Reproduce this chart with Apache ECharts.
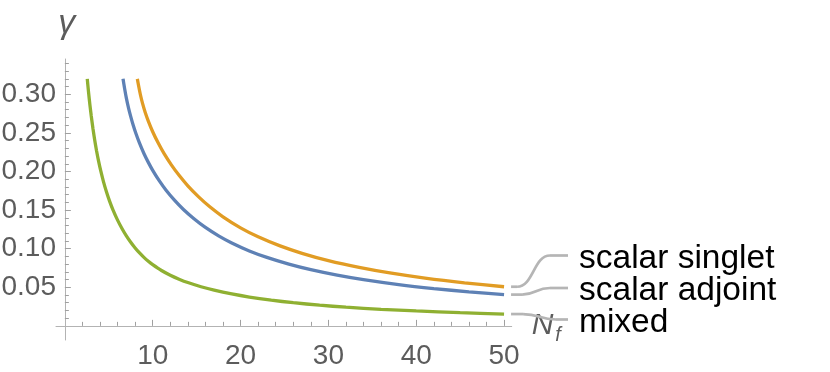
<!DOCTYPE html>
<html><head><meta charset="utf-8">
<script src="https://cdn.jsdelivr.net/npm/echarts@6/dist/echarts.min.js"></script>
<style>html,body{margin:0;padding:0;background:#fff}#c{width:830px;height:372px}</style>
</head><body><div id="c"></div>
<script>
const seriesNames = ['scalar singlet', 'scalar adjoint', 'mixed'];
const seriesColors = ['#e19c24', '#5e81b5', '#8fb032'];
const singletX = [8.25, 8.4, 8.6, 8.85, 9.15, 9.5, 10, 10.6, 11.3, 12.1, 13, 14, 15.2, 16.5, 18, 20, 22, 24.5, 27, 30, 33.5, 37, 41, 45.5, 50];
const singletY = [0.320, 0.3107, 0.2994, 0.2879, 0.2765, 0.2653, 0.2515, 0.2374, 0.2230, 0.2089, 0.1950, 0.1814, 0.1674, 0.1542, 0.1413, 0.1270, 0.1154, 0.1036, 0.0940, 0.0845, 0.0757, 0.0685, 0.0618, 0.0557, 0.0507];
const adjointX = [6.62, 6.8, 7.0, 7.25, 7.5, 7.8, 8.1, 8.5, 9.0, 9.5, 10, 10.7, 11.5, 12.5, 13.5, 14.7, 16, 17.5, 19, 21, 23, 25.5, 28, 31, 34, 38, 42, 46, 50];
const adjointY = [0.320, 0.3074, 0.2950, 0.2821, 0.2711, 0.2592, 0.2488, 0.2366, 0.2233, 0.2118, 0.2015, 0.1888, 0.1761, 0.1625, 0.1508, 0.1388, 0.1275, 0.1166, 0.1074, 0.0971, 0.0887, 0.0800, 0.0728, 0.0657, 0.0598, 0.0534, 0.0483, 0.0441, 0.0405];
const mixedX = [2.55, 2.7, 2.85, 3.0, 3.2, 3.4, 3.6, 3.85, 4.1, 4.4, 4.75, 5.1, 5.5, 6.0, 6.5, 7.0, 7.5, 8.0, 8.5, 9.0, 9.5, 10, 11, 12, 13, 14, 15.5, 17, 19, 21, 23.5, 26, 29, 32, 36, 40, 45, 50];
const mixedY = [0.320, 0.3021, 0.2863, 0.2722, 0.2553, 0.2404, 0.2272, 0.2127, 0.2000, 0.1866, 0.1731, 0.1613, 0.1496, 0.1370, 0.1262, 0.1166, 0.1083, 0.1009, 0.0944, 0.0887, 0.0837, 0.0793, 0.0717, 0.0656, 0.0605, 0.0561, 0.0507, 0.0462, 0.0413, 0.0373, 0.0333, 0.0300, 0.0268, 0.0242, 0.0215, 0.0193, 0.0171, 0.0153];
const xMajorTicks = [10, 20, 30, 40, 50];
const xMinorTicks = [2, 4, 6, 8, 12, 14, 16, 18, 22, 24, 26, 28, 32, 34, 36, 38, 42, 44, 46, 48];
const yMajorTicks = [0.05, 0.10, 0.15, 0.20, 0.25, 0.30];
const yMinorTicks = [0.01, 0.02, 0.03, 0.04, 0.06, 0.07, 0.08, 0.09, 0.11, 0.12, 0.13, 0.14, 0.16, 0.17, 0.18, 0.19, 0.21, 0.22, 0.23, 0.24, 0.26, 0.27, 0.28, 0.29, 0.31, 0.32, 0.33, 0.34];
const xAxisTitle = 'N';
const xAxisSub = 'f';
const yAxisTitle = 'γ';

const xs = [singletX, adjointX, mixedX];
const ys = [singletY, adjointY, mixedY];
const pairs = (a, b) => a.map((v, i) => [v, b[i]]);

const X_MIN = -1.01, X_MAX = 50.87, Y_MIN = -0.0183, Y_MAX = 0.3457;
const AXIS_GRAY = '#b3b3b3', TICK_GRAY = '#a0a0a0', LABEL_GRAY = '#5c5c5c';
const FONT = 'Liberation Sans';

const chart = echarts.init(document.getElementById('c'), null, {renderer: 'canvas'});
chart.setOption({
  animation: false,
  backgroundColor: '#ffffff',
  grid: {left: 56, right: 318.3, top: 59, bottom: 32, containLabel: false, outerBoundsMode: 'none'},
  xAxis: [
    {
      type: 'value', min: X_MIN, max: X_MAX, position: 'bottom',
      axisLine: {show: true, onZero: true, onZeroAxisIndex: 0, lineStyle: {color: AXIS_GRAY, width: 1}},
      axisTick: {show: true, inside: true, length: 6, customValues: xMajorTicks, lineStyle: {color: TICK_GRAY, width: 1}},
      axisLabel: {show: true, customValues: xMajorTicks, margin: 2, fontSize: 28, fontFamily: FONT, color: LABEL_GRAY},
      splitLine: {show: false},
      name: '{n|' + xAxisTitle + '}{f|' + xAxisSub + '}',
      nameLocation: 'end', nameGap: 20,
      nameTextStyle: {
        rich: {
          n: {fontSize: 30, fontStyle: 'italic', fontFamily: FONT, color: LABEL_GRAY, verticalAlign: 'middle'},
          f: {fontSize: 20, fontStyle: 'italic', fontFamily: FONT, color: LABEL_GRAY, padding: [20, 0, 0, 2], verticalAlign: 'middle'}
        }
      }
    },
    {
      type: 'value', min: X_MIN, max: X_MAX, position: 'bottom',
      axisLine: {show: false, onZero: true, onZeroAxisIndex: 0},
      axisTick: {show: true, inside: true, length: 4, customValues: xMinorTicks, lineStyle: {color: TICK_GRAY, width: 1}},
      axisLabel: {show: false},
      splitLine: {show: false}
    }
  ],
  yAxis: [
    {
      type: 'value', min: Y_MIN, max: Y_MAX, position: 'left',
      axisLine: {show: true, onZero: true, onZeroAxisIndex: 0, lineStyle: {color: AXIS_GRAY, width: 1}},
      axisTick: {show: true, inside: true, length: 6, customValues: yMajorTicks, lineStyle: {color: TICK_GRAY, width: 1}},
      axisLabel: {show: true, customValues: yMajorTicks, margin: 0, fontSize: 28, fontFamily: FONT, color: LABEL_GRAY,
        formatter: v => Number(v).toFixed(2)},
      splitLine: {show: false},
      name: yAxisTitle, nameLocation: 'end', nameGap: 18,
      nameTextStyle: {fontSize: 34, fontStyle: 'italic', fontFamily: FONT, color: LABEL_GRAY, align: 'center', padding: [0, 0, 0, 4]}
    },
    {
      type: 'value', min: Y_MIN, max: Y_MAX, position: 'left',
      axisLine: {show: false, onZero: true, onZeroAxisIndex: 0},
      axisTick: {show: true, inside: true, length: 4, customValues: yMinorTicks, lineStyle: {color: TICK_GRAY, width: 1}},
      axisLabel: {show: false},
      splitLine: {show: false}
    }
  ],
  series: seriesNames.map((name, i) => ({
    type: 'line', name: name, xAxisIndex: 0, yAxisIndex: 0,
    data: pairs(xs[i], ys[i]),
    showSymbol: false, smooth: 0.25,
    lineStyle: {width: 3.3, color: seriesColors[i]},
    itemStyle: {color: seriesColors[i]},
    silent: true, z: 3
  }))
});

// Callout labels attached to the curve ends
const ends = seriesNames.map((n, i) => chart.convertToPixel({xAxisIndex: 0, yAxisIndex: 0}, [xs[i][xs[i].length - 1], ys[i][ys[i].length - 1]]));
const labelX = 579;
const labelMid = [258.5, 291, 322.5];
const CALLOUT = '#b5b5b5';
const graphics = [];
seriesNames.forEach((name, i) => {
  const sx = ends[i][0] + 7, sy = ends[i][1];
  const ey = labelMid[i] - 3;
  const bendStart = i === 1 ? sx + 11 : (i === 0 ? sx + 6 : sx + 12);
  const bendEnd = i === 2 ? 556 : 550;
  graphics.push({type: 'line', shape: {x1: sx, y1: sy, x2: bendStart, y2: sy}, style: {stroke: CALLOUT, lineWidth: 2.7}, z: 1, silent: true});
  const mid = (bendStart + bendEnd) / 2;
  graphics.push({type: 'bezierCurve', shape: {x1: bendStart, y1: sy, x2: bendEnd, y2: ey, cpx1: mid, cpy1: sy, cpx2: mid, cpy2: ey},
    style: {stroke: CALLOUT, lineWidth: 2.7, fill: null}, z: 1, silent: true});
  graphics.push({type: 'line', shape: {x1: bendEnd, y1: ey, x2: 568, y2: ey}, style: {stroke: CALLOUT, lineWidth: 2.7}, z: 1, silent: true});
  graphics.push({type: 'text', x: labelX, y: labelMid[i],
    style: {text: name, fontSize: 33.5, fontFamily: FONT, fill: '#000000', textAlign: 'left', textVerticalAlign: 'middle'}, z: 5, silent: true});
});
chart.setOption({graphic: graphics});
</script>
</body></html>
